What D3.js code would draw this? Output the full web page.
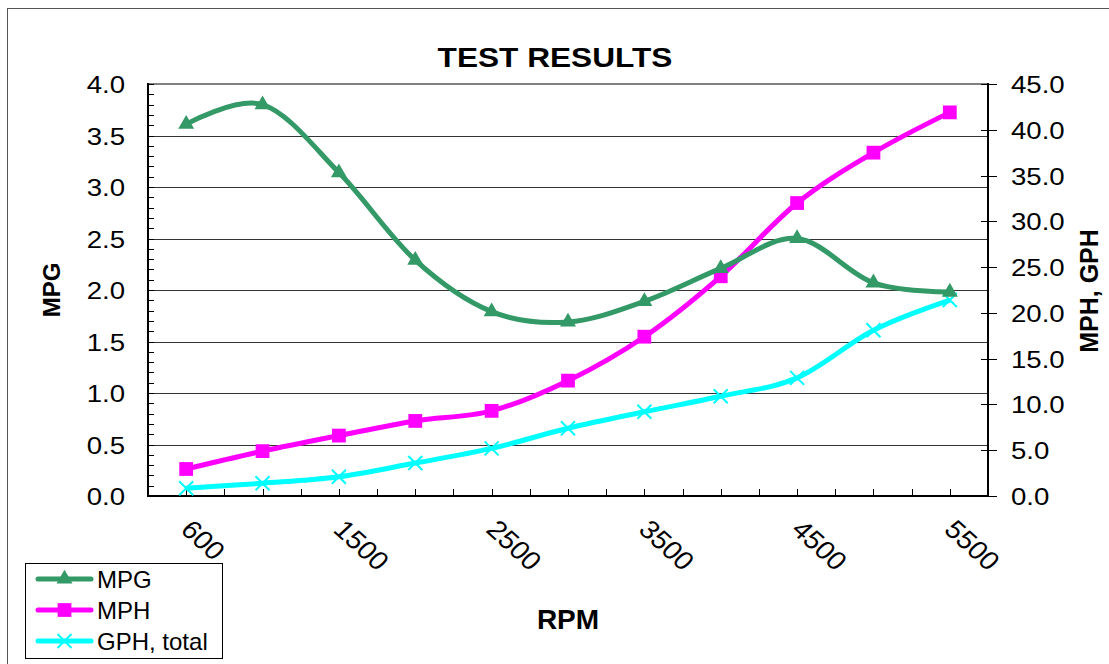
<!DOCTYPE html>
<html>
<head>
<meta charset="utf-8">
<script src="https://cdn.jsdelivr.net/npm/d3@7"></script>
<style>
  html, body { margin: 0; padding: 0; background: #fff; }
  svg { display: block; }
  text { font-family: "Liberation Sans", Arial, sans-serif; fill: #000; }
</style>
</head>
<body>
<svg id="chart" width="1109" height="664"></svg>
<script>
// ---- data ----
const categories = ["600", "1000", "1500", "2000", "2500", "3000", "3500", "4000", "4500", "5000", "5500"];
const shownXLabels = ["600", "1500", "2500", "3500", "4500", "5500"];
const mpg = [3.61, 3.80, 3.14, 2.29, 1.79, 1.69, 1.89, 2.21, 2.50, 2.07, 1.98];
const mph = [2.95, 4.9, 6.6, 8.2, 9.3, 12.6, 17.4, 24.0, 32.0, 37.5, 41.9];
const gph = [0.85, 1.4, 2.1, 3.6, 5.2, 7.4, 9.2, 10.9, 12.9, 18.1, 21.4];
const leftTicks = [0, 0.5, 1.0, 1.5, 2.0, 2.5, 3.0, 3.5, 4.0];
const rightTicks = [0, 5, 10, 15, 20, 25, 30, 35, 40, 45];
const seriesNames = ["MPG", "MPH", "GPH, total"];
const seriesColors = ["#339966", "#FF00FF", "#00FFFF"];

// ---- layout ----
const svg = d3.select("#chart");
const L = 148, R = 988, T = 84, B = 496;

svg.append("rect").attr("x", 0).attr("y", 0).attr("width", 1109).attr("height", 664).attr("fill", "#fff");
// outer chart frame
svg.append("rect").attr("x", 7.5).attr("y", 8.5).attr("width", 1200).attr("height", 800)
  .attr("fill", "none").attr("stroke", "#555").attr("stroke-width", 1);

const x = d3.scaleBand().domain(categories).range([L, R]).padding(0);
const cx = d => x(d) + x.bandwidth() / 2;
const yL = d3.scaleLinear().domain([0, 4]).range([B, T]);
const yR = d3.scaleLinear().domain([0, 45]).range([B, T]);

// gridlines
svg.append("g").selectAll("line").data(leftTicks.filter(t => t > 0 && t < 4)).join("line")
  .attr("x1", L).attr("x2", R)
  .attr("y1", d => Math.round(yL(d)) + 0.5).attr("y2", d => Math.round(yL(d)) + 0.5)
  .attr("stroke", "#333").attr("stroke-width", 1);
// top border of plot
svg.append("line").attr("x1", L).attr("x2", R).attr("y1", T).attr("y2", T)
  .attr("stroke", "#808080").attr("stroke-width", 2);

// left axis
const gl = svg.append("g");
gl.append("line").attr("x1", L).attr("x2", L).attr("y1", T - 1).attr("y2", B + 1)
  .attr("stroke", "#000").attr("stroke-width", 2);
gl.selectAll("line.mt").data(d3.range(0, 41)).join("line").attr("class", "mt")
  .attr("x1", L).attr("x2", L + 6)
  .attr("y1", d => Math.round(yL(d / 10)) + 0.5).attr("y2", d => Math.round(yL(d / 10)) + 0.5)
  .attr("stroke", "#000").attr("stroke-width", 1);
gl.selectAll("text").data(leftTicks).join("text")
  .attr("text-anchor", "end")
  .attr("transform", d => `translate(125,${yL(d) + 9}) scale(1.15,1)`)
  .attr("font-size", 24)
  .text(d => d.toFixed(1));

// right axis
const gr = svg.append("g");
gr.append("line").attr("x1", R).attr("x2", R).attr("y1", T - 1).attr("y2", B + 1)
  .attr("stroke", "#000").attr("stroke-width", 2);
gr.selectAll("line.t").data(rightTicks).join("line").attr("class", "t")
  .attr("x1", R - 7).attr("x2", R + 9)
  .attr("y1", d => Math.round(yR(d)) + 0.5).attr("y2", d => Math.round(yR(d)) + 0.5)
  .attr("stroke", "#000").attr("stroke-width", 1);
gr.selectAll("text").data(rightTicks).join("text")
  .attr("text-anchor", "start")
  .attr("transform", d => `translate(1011,${yR(d) + 9}) scale(1.15,1)`)
  .attr("font-size", 24)
  .text(d => d.toFixed(1));

// bottom axis
const gb = svg.append("g");
gb.append("line").attr("x1", L - 1).attr("x2", R + 1).attr("y1", B).attr("y2", B)
  .attr("stroke", "#000").attr("stroke-width", 2);
const halfTicks = [];
categories.forEach(c => { halfTicks.push(x(c)); halfTicks.push(cx(c)); });
halfTicks.push(R);
gb.selectAll("line.t").data(halfTicks).join("line").attr("class", "t")
  .attr("x1", d => Math.round(d) + 0.5).attr("x2", d => Math.round(d) + 0.5)
  .attr("y1", B).attr("y2", B - 7)
  .attr("stroke", "#000").attr("stroke-width", 1);
gb.selectAll("text").data(shownXLabels).join("text")
  .attr("text-anchor", "start")
  .attr("font-size", 26)
  .attr("transform", d => `translate(${cx(d) - 7},${531}) scale(1.1,1) rotate(45)`)
  .text(d => d);

// titles
svg.append("text").attr("transform", "translate(555,67) scale(1.13,1)").attr("text-anchor", "middle")
  .attr("font-size", 28).attr("font-weight", "bold").text("TEST RESULTS");
svg.append("text").attr("x", 568).attr("y", 629).attr("text-anchor", "middle")
  .attr("font-size", 28).attr("font-weight", "bold").text("RPM");
svg.append("text").attr("transform", "translate(60,290) rotate(-90)").attr("text-anchor", "middle")
  .attr("font-size", 24).attr("font-weight", "bold").text("MPG");
svg.append("text").attr("transform", "translate(1098,291) rotate(-90)").attr("text-anchor", "middle")
  .attr("font-size", 25).attr("font-weight", "bold").text("MPH, GPH");

// ---- series ----
const curve = d3.curveCardinal.tension(0);
const lineL = d3.line().x((d, i) => cx(categories[i])).y(d => yL(d)).curve(curve);
const lineR = d3.line().x((d, i) => cx(categories[i])).y(d => yR(d)).curve(curve);

const tri = d3.symbol().type(d3.symbolTriangle).size(110);
const sq = d3.symbol().type(d3.symbolSquare).size(190);

function drawMarker(g, type, color, px, py) {
  if (type === 0) {
    g.append("path").attr("d", tri()).attr("transform", `translate(${px},${py})`).attr("fill", color);
  } else if (type === 1) {
    g.append("path").attr("d", sq()).attr("transform", `translate(${px},${py})`).attr("fill", color);
  } else {
    const s = 7;
    g.append("path").attr("d", `M${px - s},${py - s}L${px + s},${py + s}M${px - s},${py + s}L${px + s},${py - s}`)
      .attr("stroke", color).attr("stroke-width", 2).attr("fill", "none");
  }
}

const gs = svg.append("g");
gs.append("path").datum(gph).attr("d", lineR).attr("fill", "none").attr("stroke", seriesColors[2]).attr("stroke-width", 5);
gph.forEach((v, i) => drawMarker(gs, 2, seriesColors[2], cx(categories[i]), yR(v)));
gs.append("path").datum(mph).attr("d", lineR).attr("fill", "none").attr("stroke", seriesColors[1]).attr("stroke-width", 5);
mph.forEach((v, i) => drawMarker(gs, 1, seriesColors[1], cx(categories[i]), yR(v)));
gs.append("path").datum(mpg).attr("d", lineL).attr("fill", "none").attr("stroke", seriesColors[0]).attr("stroke-width", 5);
mpg.forEach((v, i) => drawMarker(gs, 0, seriesColors[0], cx(categories[i]), yL(v)));

// ---- legend ----
const lg = svg.append("g");
lg.append("rect").attr("x", 25.5).attr("y", 563.5).attr("width", 197).attr("height", 95)
  .attr("fill", "#fff").attr("stroke", "#000").attr("stroke-width", 1);
const legY = [579, 610, 641];
seriesNames.forEach((n, i) => {
  lg.append("line").attr("x1", 38).attr("x2", 91).attr("y1", legY[i]).attr("y2", legY[i])
    .attr("stroke", seriesColors[i]).attr("stroke-width", 5).attr("stroke-linecap", "round");
  drawMarker(lg, i, seriesColors[i], 64.5, legY[i]);
  lg.append("text").attr("x", 97).attr("y", legY[i] + 8.5).attr("font-size", 24).text(n);
});
</script>
</body>
</html>
